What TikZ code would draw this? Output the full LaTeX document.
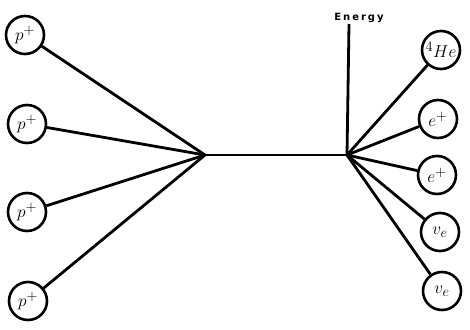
\documentclass[tikz,border=0pt]{standalone}
\usepackage{fontspec}
\usepackage{tikz}
\usetikzlibrary{positioning,calc}
\newfontfamily\energyfont[LetterSpace=20]{DejaVu Sans}

\begin{document}
\begin{tikzpicture}[
    x=1pt, y=-1pt,
    partcl/.style={draw, circle, line width=2.6pt, minimum size=38pt,
        inner sep=0pt, font=\fontsize{19}{21}\selectfont},
    leg/.style={line width=2.8pt},
    elbl/.style={font=\energyfont\bfseries\fontsize{10}{11}\selectfont, inner sep=1pt},
]
\useasboundingbox (0,0) rectangle (470,329);

% Vertices
\coordinate (vL) at (205,155);
\coordinate (vR) at (347,155);
\coordinate (etop) at (349,24);

% Incoming protons
\node[partcl] (p1) at (25,35) {$p^{+}$};
\node[partcl] (p2) at (27,124) {$p^{+}$};
\node[partcl] (p3) at (27,212) {$p^{+}$};
\node[partcl] (p4) at (28,301) {$p^{+}$};

% Outgoing products
\node[partcl] (he) at (441,50) {${}^{4}He$};
\node[partcl] (e1) at (438,119) {$e^{+}$};
\node[partcl] (e2) at (437,175) {$e^{+}$};
\node[partcl] (n1) at (440,232) {$v_{e}$};
\node[partcl] (n2) at (442,291) {$v_{e}$};

% Energy released
\node[elbl, above=0pt of etop, xshift=10pt] (en) {Energy};

% Lines
\foreach \p in {p1,p2,p3,p4}
    \draw[leg] (\p) -- (vL);
\draw[leg] (vL) -- (vR);
\foreach \q in {he,e1,e2,n1,n2}
    \draw[leg] (vR) -- (\q);
\draw[leg] (vR) -- (etop);

\end{tikzpicture}
\end{document}
